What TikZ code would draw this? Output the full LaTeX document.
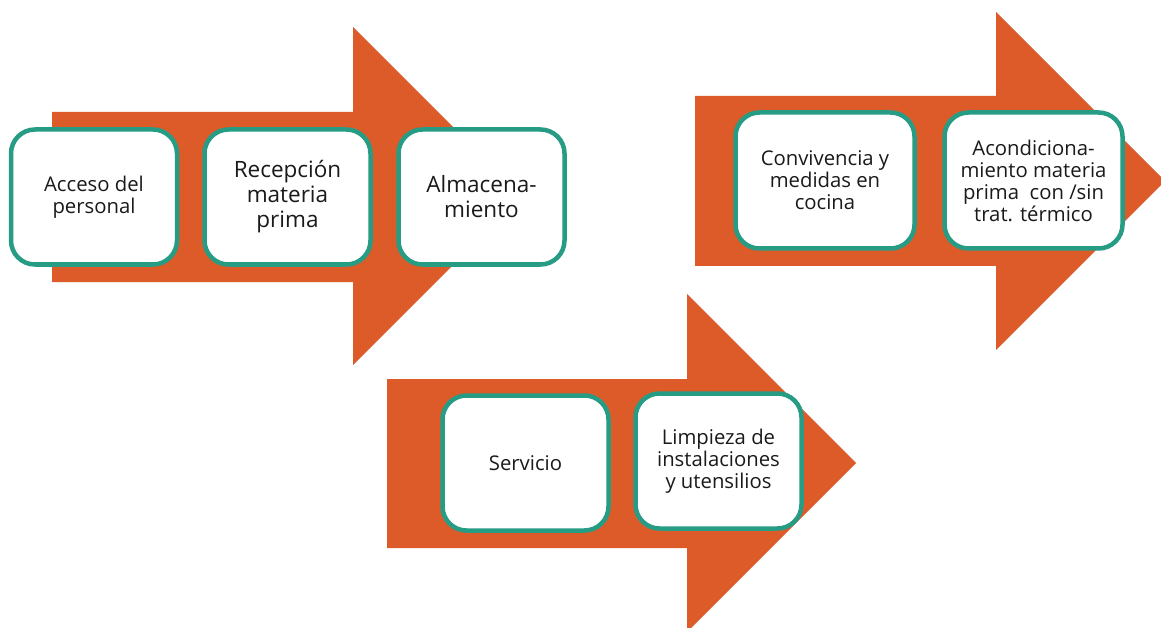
\documentclass[tikz,border=0pt]{standalone}
\usepackage{fontspec}
\setmainfont{Open Sans}
\definecolor{arrowor}{HTML}{DC5B29}
\definecolor{boxteal}{HTML}{279C84}
\definecolor{txt}{HTML}{1A1A1A}
\tikzset{
  bigarrow/.style={fill=arrowor, draw=none},
  stepbox/.style={draw=boxteal, line width=4.5pt, rounded corners=24pt, fill=white,
    align=center, inner sep=0pt, text=txt, minimum width=166pt, minimum height=135pt},
  small/.style={font=\fontsize{20.3}{22}\selectfont},
  large/.style={font=\fontsize{22.5}{25}\selectfont},
}
\begin{document}
\begin{tikzpicture}[x=1pt,y=-1pt]
\clip (0,0) rectangle (1161,628);
\fill[white] (0,0) rectangle (1161,628);
% arrows
\fill[bigarrow] (52,112) -- (353,112) -- (353,27) -- (522,196) -- (353,365) -- (353,282) -- (52,282) -- cycle;
\fill[bigarrow] (695,96) -- (996,96) -- (996,12) -- (1165,181) -- (996,350) -- (996,266) -- (695,266) -- cycle;
\fill[bigarrow] (387,379) -- (687,379) -- (687,294) -- (856,463) -- (687,632) -- (687,548) -- (387,548) -- cycle;
% boxes
\node[stepbox, small] (b1) at (94,197) {Acceso del\\personal};
\node[stepbox, large] (b2) at (287.5,197) {Recepción\\materia\\prima};
\node[stepbox, large] (b3) at (481.5,197) {Almacena-\\miento};
\node[stepbox, small, minimum width=179pt, minimum height=136pt] (b4) at (825,180.5) {Convivencia y\\medidas en\\cocina};
\node[stepbox, small, minimum width=178pt, minimum height=136pt] (b5) at (1033.5,180.5) {Acondiciona-\\miento materia\\prima~ con /sin\\trat. térmico};
\node[stepbox, small] (b6) at (525.5,463) {Servicio};
\node[stepbox, small] (b7) at (718.5,461) {Limpieza de\\instalaciones\\y utensilios};
\end{tikzpicture}
\end{document}
